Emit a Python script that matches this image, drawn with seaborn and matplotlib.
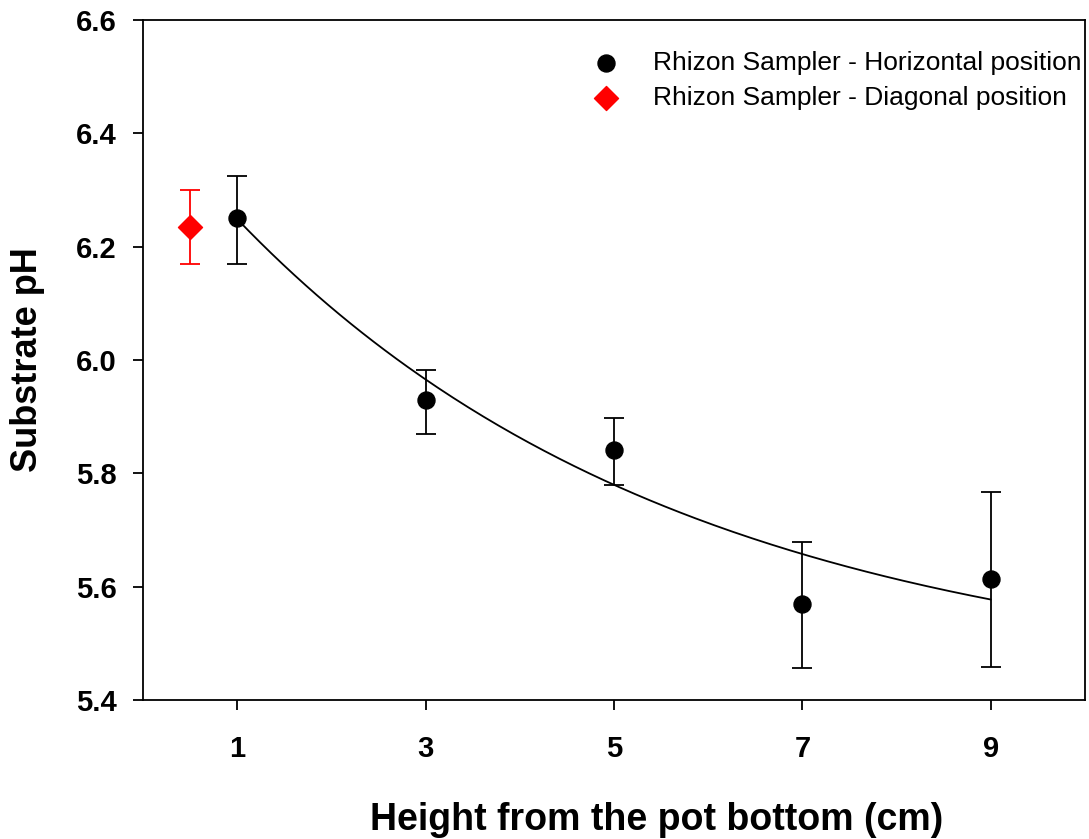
import numpy as np
import pandas as pd
import seaborn as sb
import matplotlib.pyplot as plt

# data
height = [1, 3, 5, 7, 9]
ph_horiz = [6.25, 5.929, 5.841, 5.569, 5.613]
err_lo = [0.08, 0.059, 0.062, 0.113, 0.155]
err_hi = [0.075, 0.053, 0.056, 0.110, 0.154]
diag_x = [0.5]
ph_diag = [6.234]
diag_lo = [0.064]
diag_hi = [0.066]
# exponential decay fit y = a + b*exp(-c*x)
fit_a, fit_b, fit_c = 5.4235, 1.018, 0.21

sb.set_style('ticks')
plt.rcParams['font.family'] = ['Liberation Sans', 'DejaVu Sans']
plt.rcParams['text.color'] = 'black'
plt.rcParams['axes.labelcolor'] = 'black'
plt.rcParams['xtick.color'] = 'black'
plt.rcParams['ytick.color'] = 'black'
plt.rcParams['axes.edgecolor'] = 'black'

fig = plt.figure(figsize=(10.89, 8.39), dpi=100)
ax = fig.add_axes([143/1089, 1-700/839, 942/1089, 680/839])

df = pd.DataFrame({'x': height, 'y': ph_horiz})
xf = np.linspace(1, 9, 200)
ax.plot(xf, fit_a + fit_b*np.exp(-fit_c*xf), color='black', lw=1.3, zorder=2)
ax.errorbar(height, ph_horiz, yerr=[err_lo, err_hi], fmt='none', ecolor='black',
            elinewidth=1.3, capsize=7, capthick=1.3, zorder=3)
ax.errorbar(diag_x, ph_diag, yerr=[diag_lo, diag_hi], fmt='none', ecolor='red',
            elinewidth=1.3, capsize=7, capthick=1.3, zorder=3)
sb.scatterplot(data=df, x='x', y='y', color='black', s=150, edgecolor='black',
               label='Rhizon Sampler - Horizontal position', ax=ax, zorder=4)
sb.scatterplot(x=diag_x, y=ph_diag, color='red', marker='D', s=150, edgecolor='red',
               label='Rhizon Sampler - Diagonal position', ax=ax, zorder=4)

ax.set_xlim(0, 10)
ax.set_ylim(5.4, 6.6)
ax.set_xticks(height)
ax.set_yticks([5.4, 5.6, 5.8, 6.0, 6.2, 6.4, 6.6])
ax.set_yticklabels(['5.4', '5.6', '5.8', '6.0', '6.2', '6.4', '6.6'])
ax.tick_params(labelsize=21, width=1.3, length=7)
ax.tick_params(axis='y', pad=12)
ax.tick_params(axis='x', pad=18)
for lab in ax.get_xticklabels() + ax.get_yticklabels():
    lab.set_fontweight('bold')
for s in ax.spines.values():
    s.set_linewidth(1.3)
ax.set_xlabel('Height from the pot bottom (cm)', fontsize=27, fontweight='bold')
ax.xaxis.set_label_coords(0.545, -0.15)
ax.set_ylabel('Substrate pH', fontsize=26, fontweight='bold')
ax.yaxis.set_label_coords(-0.104, 0.5)
ax.legend(loc='upper right', bbox_to_anchor=(1.022, 0.99), frameon=False, fontsize=19,
          handletextpad=0.8, borderaxespad=0.0, labelspacing=0.45, borderpad=0.9)

fig.savefig('out.png', dpi=100)
